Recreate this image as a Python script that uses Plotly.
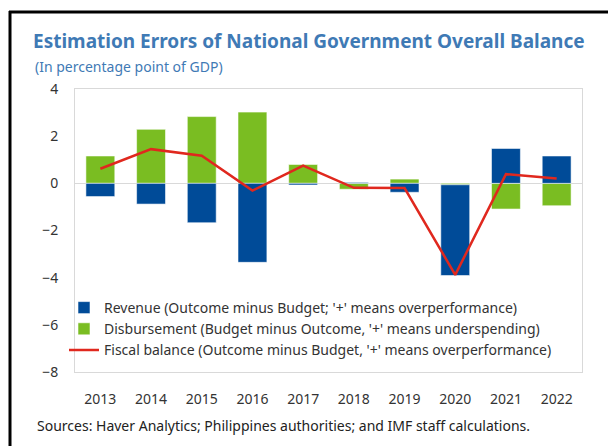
import plotly.graph_objects as go

years = ["2013", "2014", "2015", "2016", "2017", "2018", "2019", "2020", "2021", "2022"]
revenue = [-0.56, -0.88, -1.67, -3.35, -0.07, 0.04, -0.38, -3.85, 1.48, 1.16]
disbursement = [1.16, 2.29, 2.83, 3.02, 0.80, -0.25, 0.18, -0.06, -1.09, -0.95]
fiscal = [0.62, 1.45, 1.17, -0.31, 0.75, -0.19, -0.20, -3.88, 0.39, 0.21]
y_ticks = [-8, -6, -4, -2, 0, 2, 4]

names = [
    "Revenue (Outcome minus Budget; '+' means overperformance)",
    "Disbursement (Budget minus Outcome, '+' means underspending)",
    "Fiscal balance (Outcome minus Budget, '+' means overperformance)",
]

BLUE = "#004B98"
GREEN = "#7ABD22"
RED = "#E0281E"
FONT = "Noto Sans"

W, H = 608, 446
L, R, T, B = 75, 26, 89, 74
pw, ph = W - L - R, H - T - B

def px(x):
    return (x - L) / pw

def py(y):
    return (H - B - y) / ph

fig = go.Figure()
fig.add_trace(go.Bar(x=years, y=disbursement, name=names[1], marker_color=GREEN,
                     marker_line=dict(color="rgba(255,255,255,0.55)", width=1),
                     legendrank=2))
fig.add_trace(go.Bar(x=years, y=revenue, name=names[0], marker_color=BLUE,
                     marker_line=dict(color="rgba(255,255,255,0.55)", width=1),
                     legendrank=1))
fig.add_trace(go.Scatter(x=years, y=fiscal, name=names[2], mode="lines",
                         line=dict(color=RED, width=2.5), legendrank=3))

fig.update_layout(
    width=W, height=H,
    margin=dict(l=L, r=R, t=T, b=B, autoexpand=False),
    paper_bgcolor="white", plot_bgcolor="white",
    barmode="relative", bargap=0.43,
    font=dict(family=FONT, size=14, color="#333333"),
    showlegend=True,
    legend=dict(x=px(64), y=py(292), xanchor="left", yanchor="top",
                bgcolor="rgba(0,0,0,0)", font=dict(size=14, color="#333333"),
                itemwidth=30, tracegroupgap=0, traceorder="normal"),
    title=dict(text="<b>Estimation Errors of National Government Overall Balance</b>",
               x=33 / W, xanchor="left", y=1 - 41 / H, yanchor="middle",
               font=dict(family=FONT, size=19, color="#3F7AB5")),
)
fig.update_xaxes(showgrid=False, showline=True, linecolor="#D9D9D9", linewidth=1,
                 mirror=True, ticks="", ticklabelstandoff=14,
                 tickfont=dict(size=14, color="#333333"))
fig.update_yaxes(range=[-8, 4], tickvals=y_ticks, showgrid=False,
                 zeroline=True, zerolinecolor="#D9D9D9", zerolinewidth=1,
                 showline=True, linecolor="#D9D9D9", linewidth=1, mirror=True,
                 ticks="", ticklabelstandoff=13,
                 tickfont=dict(size=14, color="#333333"))

fig.add_annotation(text="(In percentage point of GDP)", xref="paper", yref="paper",
                   x=px(33), y=py(66), xanchor="left", yanchor="middle", showarrow=False,
                   font=dict(size=14, color="#3F7AB5"))
fig.add_annotation(text="Sources: Haver Analytics; Philippines authorities; and IMF staff calculations.",
                   xref="paper", yref="paper", x=px(35), y=py(425), xanchor="left",
                   yanchor="middle", showarrow=False, font=dict(size=14, color="#222222"))

# outer frame (top and left edges of the screenshot border)
fig.add_shape(type="line", xref="paper", yref="paper", x0=px(9), x1=px(608),
              y0=py(12), y1=py(12), line=dict(color="black", width=3))
fig.add_shape(type="line", xref="paper", yref="paper", x0=px(10), x1=px(10),
              y0=py(11), y1=py(446), line=dict(color="black", width=3))

fig.write_html("out.html", config={"displayModeBar": False},
               post_script="document.body.style.margin='0';document.body.style.overflow='hidden';")
